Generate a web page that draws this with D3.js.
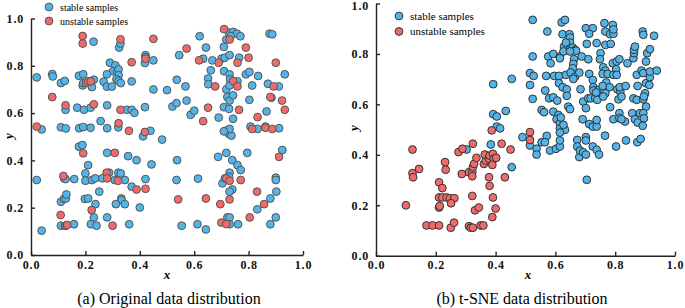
<!DOCTYPE html>
<html>
<head>
<meta charset="utf-8">
<script src="https://cdn.jsdelivr.net/npm/d3@7"></script>
<style>
  body { margin: 0; background: #fff; }
  .tick text { font-family: "Liberation Serif", "Times New Roman", serif; font-weight: bold; font-size: 12px; letter-spacing: 0.8px; fill: #111; }
  .axis path, .axis line { stroke: #222; stroke-width: 1.4px; }
</style>
</head>
<body>
<div id="chart"></div>
<script>
// panel (a): original data
const stableA = [[0.021,0.751],[0.039,0.531],[0.078,0.765],[0.08,0.755],[0.11,0.727],[0.124,0.736],[0.11,0.54],[0.128,0.535],[0.127,0.614],[0.17,0.623],[0.23,0.902],[0.176,0.758],[0.192,0.764],[0.19,0.717],[0.192,0.727],[0.231,0.741],[0.224,0.71],[0.195,0.614],[0.219,0.623],[0.177,0.536],[0.192,0.541],[0.219,0.538],[0.256,0.566],[0.267,0.733],[0.28,0.633],[0.279,0.712],[0.297,0.712],[0.29,0.813],[0.31,0.802],[0.302,0.777],[0.317,0.774],[0.322,0.785],[0.279,0.764],[0.322,0.76],[0.314,0.743],[0.322,0.736],[0.33,0.727],[0.28,0.536],[0.321,0.54],[0.352,0.614],[0.37,0.614],[0.38,0.601],[0.324,0.877],[0.329,0.894],[0.37,0.734],[0.419,0.625],[0.412,0.502],[0.439,0.525],[0.482,0.488],[0.421,0.845],[0.421,0.836],[0.419,0.812],[0.45,0.823],[0.45,0.70],[0.5,0.697],[0.536,0.741],[0.52,0.628],[0.535,0.642],[0.545,0.845],[0.568,0.713],[0.572,0.653],[0.587,0.593],[0.6,0.61],[0.62,0.925],[0.643,0.877],[0.633,0.83],[0.661,0.781],[0.651,0.746],[0.652,0.722],[0.667,0.823],[0.69,0.581],[0.7,0.83],[0.712,0.834],[0.71,0.777],[0.709,0.625],[0.718,0.70],[0.722,0.668],[0.728,0.618],[0.73,0.653],[0.709,0.88],[0.718,0.911],[0.728,0.94],[0.743,0.943],[0.757,0.936],[0.77,0.925],[0.734,0.925],[0.73,0.845],[0.73,0.764],[0.732,0.743],[0.73,0.717],[0.759,0.734],[0.743,0.576],[0.743,0.675],[0.765,0.834],[0.79,0.764],[0.803,0.774],[0.803,0.656],[0.813,0.717],[0.807,0.543],[0.833,0.533],[0.835,0.757],[0.718,0.526],[0.728,0.512],[0.737,0.505],[0.73,0.533],[0.709,0.523],[0.862,0.543],[0.912,0.536],[0.866,0.607],[0.871,0.724],[0.877,0.936],[0.887,0.933],[0.884,0.665],[0.911,0.713],[0.933,0.764],
  [0.176,0.458],[0.189,0.465],[0.21,0.38],[0.2,0.345],[0.2,0.314],[0.28,0.432],[0.357,0.418],[0.388,0.401],[0.443,0.383],[0.021,0.317],[0.039,0.103],[0.122,0.324],[0.127,0.321],[0.159,0.321],[0.224,0.317],[0.236,0.324],[0.263,0.324],[0.308,0.317],[0.287,0.348],[0.321,0.348],[0.33,0.345],[0.345,0.317],[0.37,0.289],[0.421,0.321],[0.251,0.268],[0.11,0.225],[0.121,0.237],[0.128,0.239],[0.13,0.256],[0.198,0.237],[0.21,0.239],[0.237,0.215],[0.28,0.159],[0.231,0.159],[0.332,0.239],[0.333,0.232],[0.312,0.215],[0.345,0.215],[0.4,0.201],[0.11,0.124],[0.125,0.123],[0.158,0.13],[0.22,0.13],[0.241,0.124],[0.361,0.13],[0.537,0.401],[0.535,0.317],[0.554,0.124],[0.614,0.323],[0.612,0.13],[0.643,0.108],[0.688,0.415],[0.718,0.432],[0.74,0.401],[0.759,0.38],[0.771,0.359],[0.704,0.303],[0.713,0.324],[0.73,0.348],[0.728,0.331],[0.74,0.277],[0.73,0.268],[0.795,0.432],[0.9,0.327],[0.9,0.317],[0.924,0.444],[0.902,0.268],[0.88,0.239],[0.832,0.193],[0.9,0.159],[0.722,0.159],[0.73,0.159],[0.73,0.13],[0.761,0.13],[0.88,0.13]];

const unstableA = [[0.021,0.543],[0.078,0.668],[0.127,0.633],[0.19,0.926],[0.19,0.894],[0.202,0.728],[0.21,0.734],[0.22,0.734],[0.231,0.637],[0.322,0.557],[0.329,0.614],[0.329,0.912],[0.37,0.815],[0.36,0.525],[0.419,0.52],[0.421,0.83],[0.45,0.914],[0.572,0.873],[0.633,0.566],[0.618,0.823],[0.651,0.623],[0.677,0.713],[0.69,0.813],[0.71,0.955],[0.73,0.911],[0.743,0.736],[0.759,0.713],[0.759,0.813],[0.765,0.614],[0.79,0.877],[0.8,0.834],[0.813,0.533],[0.833,0.583],[0.862,0.538],[0.887,0.533],[0.88,0.668],[0.892,0.713],[0.9,0.813],[0.923,0.653],[0.933,0.614],
  [0.192,0.43],[0.308,0.432],[0.119,0.334],[0.278,0.348],[0.28,0.324],[0.32,0.314],[0.388,0.277],[0.421,0.28],[0.223,0.19],[0.109,0.169],[0.128,0.124],[0.133,0.127],[0.3,0.124],[0.541,0.235],[0.643,0.239],[0.718,0.324],[0.73,0.314],[0.73,0.235],[0.696,0.215],[0.771,0.317],[0.912,0.415],[0.831,0.268],[0.857,0.215],[0.804,0.159],[0.7,0.137],[0.718,0.131]];

// panel (b): t-SNE embedding
const stableB = [[0.392,0.68],[0.454,0.701],[0.392,0.561],[0.404,0.552],[0.434,0.574],[0.404,0.512],[0.415,0.505],[0.49,0.47],[0.524,0.935],[0.573,0.889],[0.524,0.79],[0.515,0.724],[0.527,0.713],[0.524,0.622],[0.515,0.677],[0.566,0.655],[0.554,0.578],[0.562,0.569],[0.571,0.475],[0.576,0.79],[0.584,0.763],[0.593,0.8],[0.569,0.713],[0.579,0.624],[0.593,0.628],[0.606,0.615],[0.593,0.571],[0.61,0.558],[0.604,0.541],[0.615,0.525],[0.618,0.548],[0.615,0.505],[0.632,0.499],[0.627,0.519],[0.615,0.488],[0.596,0.713],[0.612,0.713],[0.635,0.717],[0.612,0.684],[0.624,0.668],[0.638,0.66],[0.638,0.634],[0.643,0.591],[0.649,0.581],[0.621,0.925],[0.632,0.935],[0.615,0.79],[0.624,0.878],[0.647,0.878],[0.649,0.865],[0.649,0.845],[0.629,0.829],[0.635,0.845],[0.627,0.81],[0.649,0.819],[0.658,0.825],[0.666,0.816],[0.669,0.813],[0.649,0.81],[0.615,0.783],[0.662,0.779],[0.66,0.761],[0.658,0.743],[0.651,0.726],[0.666,0.71],[0.66,0.701],[0.68,0.726],[0.684,0.66],[0.688,0.79],[0.691,0.541],[0.713,0.522],[0.725,0.512],[0.738,0.512],[0.738,0.538],[0.702,0.902],[0.725,0.902],[0.713,0.88],[0.705,0.84],[0.738,0.843],[0.71,0.779],[0.713,0.721],[0.725,0.697],[0.727,0.668],[0.74,0.657],[0.693,0.611],[0.71,0.624],[0.718,0.624],[0.733,0.624],[0.74,0.618],[0.702,0.585],[0.727,0.655],[0.736,0.647],[0.751,0.803],[0.749,0.779],[0.764,0.922],[0.792,0.915],[0.767,0.889],[0.783,0.878],[0.794,0.88],[0.794,0.897],[0.767,0.836],[0.785,0.84],[0.76,0.747],[0.767,0.734],[0.758,0.721],[0.775,0.721],[0.77,0.687],[0.781,0.668],[0.758,0.673],[0.767,0.644],[0.76,0.631],[0.783,0.589],[0.792,0.763],[0.805,0.77],[0.814,0.779],[0.803,0.739],[0.794,0.717],[0.805,0.717],[0.807,0.66],[0.817,0.651],[0.815,0.668],[0.811,0.62],[0.821,0.631],[0.794,0.541],[0.814,0.565],[0.814,0.545],[0.833,0.532],[0.821,0.541],[0.841,0.763],[0.835,0.673],[0.861,0.783],[0.863,0.803],[0.863,0.816],[0.866,0.829],[0.872,0.717],[0.875,0.673],[0.861,0.624],[0.872,0.618],[0.857,0.565],[0.866,0.541],[0.875,0.528],[0.883,0.565],[0.892,0.889],[0.894,0.876],[0.888,0.734],[0.894,0.724],[0.903,0.77],[0.907,0.803],[0.916,0.819],[0.903,0.684],[0.914,0.677],[0.916,0.708],[0.916,0.73],[0.9,0.644],[0.894,0.62],[0.896,0.631],[0.903,0.591],[0.894,0.565],[0.896,0.545],[0.892,0.515],[0.93,0.872],[0.939,0.734],
  [0.515,0.437],[0.537,0.424],[0.537,0.401],[0.554,0.45],[0.565,0.45],[0.582,0.417],[0.602,0.424],[0.615,0.433],[0.615,0.457],[0.673,0.459],[0.673,0.433],[0.68,0.391],[0.682,0.417],[0.693,0.41],[0.702,0.401],[0.702,0.47],[0.702,0.457],[0.705,0.301],[0.725,0.433],[0.738,0.42],[0.746,0.401],[0.766,0.476],[0.803,0.433],[0.836,0.457],[0.874,0.45],[0.885,0.463],[0.454,0.351],[0.384,0.441],[0.303,0.421]];

const unstableB = [[0.1,0.2],[0.122,0.421],[0.122,0.327],[0.124,0.311],[0.144,0.344],[0.169,0.12],[0.189,0.12],[0.211,0.12],[0.211,0.291],[0.222,0.268],[0.211,0.231],[0.222,0.231],[0.236,0.231],[0.247,0.228],[0.262,0.228],[0.251,0.208],[0.211,0.191],[0.213,0.197],[0.231,0.371],[0.233,0.341],[0.25,0.111],[0.261,0.131],[0.276,0.411],[0.289,0.424],[0.287,0.324],[0.324,0.444],[0.311,0.331],[0.322,0.331],[0.322,0.315],[0.324,0.351],[0.328,0.364],[0.336,0.388],[0.322,0.237],[0.311,0.117],[0.317,0.111],[0.324,0.111],[0.331,0.18],[0.344,0.191],[0.35,0.12],[0.359,0.12],[0.361,0.364],[0.367,0.377],[0.364,0.401],[0.378,0.384],[0.38,0.397],[0.391,0.404],[0.394,0.384],[0.402,0.388],[0.389,0.36],[0.378,0.311],[0.38,0.277],[0.391,0.231],[0.4,0.187],[0.389,0.153],[0.387,0.497],[0.42,0.444],[0.431,0.311],[0.45,0.421],[0.515,0.49],[0.515,0.459]];

const tickValues = [0, 0.2, 0.4, 0.6, 0.8, 1.0];
const legendLabels = ["stable samples", "unstable samples"];
const captions = ["(a) Original data distribution", "(b) t-SNE data distribution"];

const blue = "#52b4e8", red = "#ef6b6b";

const svg = d3.select("#chart").append("svg")
  .attr("width", 685).attr("height", 308)
  .style("background", "#fff");

// one panel per embedding
const panels = [
  { stable: stableA, unstable: unstableA, x0: 31, x1: 303, y0: 255, y1: 18.5, stroke: "#555",
    legend: { x: 49, y: 7, dy: 14, size: 10 }, caption: captions[0], capX: 169, xlab: 167, ylab: 136 },
  { stable: stableB, unstable: unstableB, x0: 376, x1: 675, y0: 255.7, y1: 3.5, stroke: "#333",
    legend: { x: 399, y: 16, dy: 15.5, size: 11 }, caption: captions[1], capX: 522, xlab: 528, ylab: 128 }
];

panels.forEach(p => {
  const x = d3.scaleLinear().domain([0, 1]).range([p.x0, p.x1]);
  const y = d3.scaleLinear().domain([0, 1]).range([p.y0, p.y1]);

  const g = svg.append("g");

  // points: stable first, unstable on top
  [[p.stable, blue], [p.unstable, red]].forEach(([data, col]) => {
    g.append("g").selectAll("circle")
      .data(data)
      .enter().append("circle")
      .attr("cx", d => x(d[0]))
      .attr("cy", d => y(d[1]))
      .attr("r", 3.9)
      .attr("fill", col)
      .attr("stroke", p.stroke)
      .attr("stroke-width", 1);
  });

  g.append("g").attr("class", "axis")
    .attr("transform", `translate(0,${p.y0})`)
    .call(d3.axisBottom(x).tickValues(tickValues).tickFormat(d3.format(".1f"))
      .tickSizeInner(-4).tickSizeOuter(0).tickPadding(5));

  const yAxis = g.append("g").attr("class", "axis")
    .attr("transform", `translate(${p.x0},0)`)
    .call(d3.axisLeft(y).tickValues(tickValues).tickFormat(d3.format(".1f"))
      .tickSizeInner(-4).tickSizeOuter(0).tickPadding(7));

  // keep the top label inside the picture
  yAxis.selectAll(".tick text")
    .filter(d => y(d) < 8)
    .attr("y", 2);

  // axis titles
  g.append("text")
    .attr("x", p.xlab).attr("y", 279)
    .attr("text-anchor", "middle")
    .style("font-family", "Liberation Serif, serif")
    .style("font-style", "italic").style("font-weight", "bold").style("font-size", "13px")
    .text("x");

  g.append("text")
    .attr("transform", `translate(${p.x0 - 23},${p.ylab}) rotate(-90)`)
    .attr("text-anchor", "middle")
    .attr("dy", "0.35em")
    .style("font-family", "Liberation Serif, serif")
    .style("font-style", "italic").style("font-weight", "bold").style("font-size", "13px")
    .text("y");

  // legend
  const lg = g.append("g");
  [blue, red].forEach((col, i) => {
    lg.append("circle")
      .attr("cx", p.legend.x).attr("cy", p.legend.y + i * p.legend.dy)
      .attr("r", 3.9).attr("fill", col).attr("stroke", p.stroke);
    lg.append("text")
      .attr("x", p.legend.x + 11).attr("y", p.legend.y + i * p.legend.dy)
      .attr("dy", "0.35em")
      .style("font-family", "Liberation Serif, serif")
      .style("font-size", p.legend.size + "px")
      .text(legendLabels[i]);
  });

  // caption
  g.append("text")
    .attr("x", p.capX).attr("y", 304)
    .attr("text-anchor", "middle")
    .style("font-family", "Liberation Serif, serif")
    .style("font-size", "16px")
    .text(p.caption);
});
</script>
</body>
</html>
